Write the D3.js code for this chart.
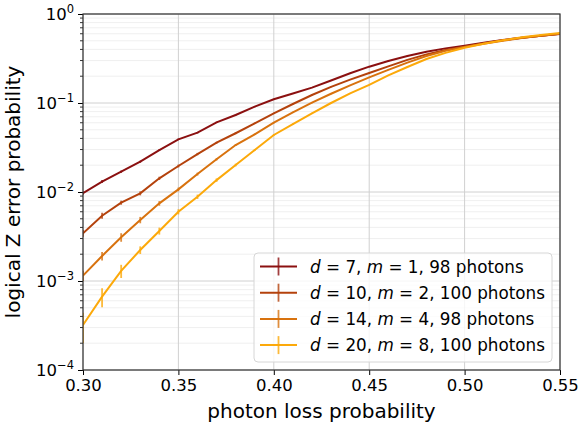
<!DOCTYPE html>
<html><head><meta charset="utf-8">
<script src="https://cdn.jsdelivr.net/npm/d3@7"></script>
<style>body{margin:0;background:#fff}svg{display:block}text{font-family:"DejaVu Sans",sans-serif}</style>
</head><body><svg id="c" width="582" height="423"></svg>
<script>
const pLoss = [0.30,0.31,0.32,0.33,0.34,0.35,0.36,0.37,0.38,0.39,0.40,0.41,0.42,0.43,0.44,0.45,0.46,0.47,0.48,0.49,0.50,0.51,0.52,0.53,0.54,0.55];
const d7  = [0.0097,0.0131,0.0169,0.0219,0.0296,0.0391,0.0464,0.0607,0.0733,0.091,0.110,0.128,0.149,0.179,0.216,0.256,0.296,0.337,0.377,0.411,0.44,0.476,0.51,0.542,0.57,0.596];
const d10 = [0.00344,0.00542,0.00759,0.00966,0.01425,0.0196,0.0267,0.0358,0.0457,0.0591,0.0766,0.0975,0.123,0.152,0.183,0.217,0.258,0.305,0.352,0.394,0.43,0.468,0.506,0.542,0.57,0.6];
const d14 = [0.00115,0.00191,0.0031,0.00485,0.00746,0.0107,0.0159,0.0233,0.0337,0.0445,0.0601,0.0786,0.1008,0.127,0.158,0.194,0.236,0.284,0.337,0.386,0.426,0.464,0.501,0.537,0.57,0.6];
const d20 = [0.00032,0.000667,0.0013,0.00223,0.00365,0.0060,0.00885,0.0136,0.0201,0.0296,0.0437,0.058,0.0766,0.1,0.128,0.16,0.204,0.254,0.312,0.366,0.418,0.464,0.506,0.547,0.58,0.612];
const e7  = [0.0004,0.0005,0.0005,0.0006,0.0007,0.0008,0.0009,0.001,0.0011,0.0012,0.0013,0.0014,0.0015,0.0016,0.0017,0.0018,0.0019,0.002,0.002,0.002,0.002,0.002,0.002,0.002,0.002,0.002];
const e10 = [0.0003,0.00042,0.0004,0.0005,0.0006,0.0007,0.0008,0.0009,0.001,0.0011,0.0012,0.0013,0.0014,0.0015,0.0016,0.0017,0.0018,0.0019,0.002,0.002,0.002,0.002,0.002,0.002,0.002,0.002];
const e14 = [0.00015,0.00021,0.00034,0.0004,0.00045,0.0005,0.0006,0.0007,0.0008,0.0009,0.001,0.0011,0.0012,0.0013,0.0014,0.0015,0.0016,0.0017,0.0018,0.0019,0.002,0.002,0.002,0.002,0.002,0.002];
const e20 = [0.00012,0.00016,0.00022,0.00022,0.00033,0.0004,0.0005,0.0006,0.0007,0.0008,0.0009,0.001,0.0011,0.0012,0.0013,0.0014,0.0015,0.0016,0.0017,0.0018,0.0019,0.002,0.002,0.002,0.002,0.002];
const labels = [["7","1","98"],["10","2","100"],["14","4","98"],["20","8","100"]];
const colors = ["#8b1010","#b4420c","#d8720e","#fca90a"];
const xTicks = [0.30,0.35,0.40,0.45,0.50,0.55];
const yExps = [-4,-3,-2,-1,0];

const series = [d7,d10,d14,d20], errs=[e7,e10,e14,e20];
const svg = d3.select("#c");
const L=83,R=560,T=14,B=370;
const x = d3.scaleLinear().domain([0.30,0.55]).range([L,R]);
const y = d3.scaleLog().domain([1e-4,1]).range([B,T]);

// grid
const g = svg.append("g");
const minor=[];
for(let e=-4;e<0;e++) for(let k=2;k<10;k++) minor.push(k*Math.pow(10,e));
g.selectAll(".mn").data(minor).join("line").attr("x1",L).attr("x2",R)
 .attr("y1",d=>y(d)).attr("y2",d=>y(d)).attr("stroke","#ebebeb").attr("stroke-width",0.8);
g.selectAll(".mj").data(yExps).join("line").attr("x1",L).attr("x2",R)
 .attr("y1",d=>y(Math.pow(10,d))).attr("y2",d=>y(Math.pow(10,d))).attr("stroke","#d0d0d0").attr("stroke-width",1);
g.selectAll(".vx").data(xTicks).join("line").attr("y1",T).attr("y2",B)
 .attr("x1",d=>x(d)).attr("x2",d=>x(d)).attr("stroke","#d0d0d0").attr("stroke-width",1);

// data
svg.append("clipPath").attr("id","cl").append("rect").attr("x",L).attr("y",T).attr("width",R-L).attr("height",B-T);
const dg = svg.append("g").attr("clip-path","url(#cl)");
const line = d3.line().x((d,i)=>x(pLoss[i])).y(d=>y(d));
series.forEach((s,si)=>{
  dg.append("path").datum(s).attr("d",line).attr("fill","none").attr("stroke",colors[si]).attr("stroke-width",2);
  dg.selectAll(null).data(s).join("line")
    .attr("x1",(d,i)=>x(pLoss[i])).attr("x2",(d,i)=>x(pLoss[i]))
    .attr("y1",(d,i)=>y(Math.max(d-errs[si][i],1e-5))).attr("y2",(d,i)=>y(d+errs[si][i]))
    .attr("stroke",colors[si]).attr("stroke-width",1.8).attr("opacity",0.8);
});

// axes
const xa = svg.append("g").attr("transform",`translate(0,${B})`)
  .call(d3.axisBottom(x).tickValues(xTicks).tickFormat(d3.format(".2f")).tickSize(5).tickPadding(4));
xa.select(".domain").remove();
xa.selectAll("text").attr("font-size","16.5px").attr("fill","#000").attr("font-family","DejaVu Sans");
xa.selectAll("line").attr("stroke","#000").attr("stroke-width",1);

const ya = svg.append("g").attr("transform",`translate(${L},0)`)
  .call(d3.axisLeft(y).tickValues(yExps.map(e=>Math.pow(10,e))).tickFormat("").tickSize(5));
ya.select(".domain").remove();
ya.selectAll("line").attr("stroke","#000");
svg.append("g").selectAll("line").data(minor).join("line")
  .attr("x1",L-3).attr("x2",L).attr("y1",d=>y(d)).attr("y2",d=>y(d)).attr("stroke","#000").attr("stroke-width",0.8);
const yl = svg.append("g");
yExps.forEach(e=>{
  const t = yl.append("text").attr("x",L-9).attr("y",y(Math.pow(10,e))+6).attr("text-anchor","end").attr("font-size","16.5px");
  t.append("tspan").text("10");
  t.append("tspan").attr("font-size","11.5px").attr("dy",-7).text(e===0?"0":"\u2212"+(-e));
});

svg.append("rect").attr("x",L).attr("y",T).attr("width",R-L).attr("height",B-T).attr("fill","none").attr("stroke","#333").attr("stroke-width",1.2);

svg.append("text").attr("x",(L+R)/2).attr("y",418).attr("text-anchor","middle").attr("font-size","20px").text("photon loss probability");
svg.append("text").attr("transform",`translate(20,${(T+B)/2}) rotate(-90)`).attr("text-anchor","middle").attr("font-size","20px").text("logical Z error probability");

// legend
const lg = svg.append("g");
lg.append("rect").attr("x",254).attr("y",253).attr("width",298).attr("height",109).attr("rx",4)
  .attr("fill","#fff").attr("fill-opacity",0.8).attr("stroke","#d6d6d6").attr("stroke-width",1);
labels.forEach((lb,i)=>{
  const cy = 266.5 + i*26.2;
  lg.append("line").attr("x1",260).attr("x2",297).attr("y1",cy).attr("y2",cy).attr("stroke",colors[i]).attr("stroke-width",2);
  lg.append("line").attr("x1",278.5).attr("x2",278.5).attr("y1",cy-9).attr("y2",cy+9).attr("stroke",colors[i]).attr("stroke-width",1.8).attr("opacity",0.8);
  const t = lg.append("text").attr("x",310).attr("y",cy+6).attr("font-size","16.8px");
  t.append("tspan").attr("font-style","italic").text("d");
  t.append("tspan").text(" = "+lb[0]+", ");
  t.append("tspan").attr("font-style","italic").text("m");
  t.append("tspan").text(" = "+lb[1]+", "+lb[2]+" photons");
});
</script></body></html>
